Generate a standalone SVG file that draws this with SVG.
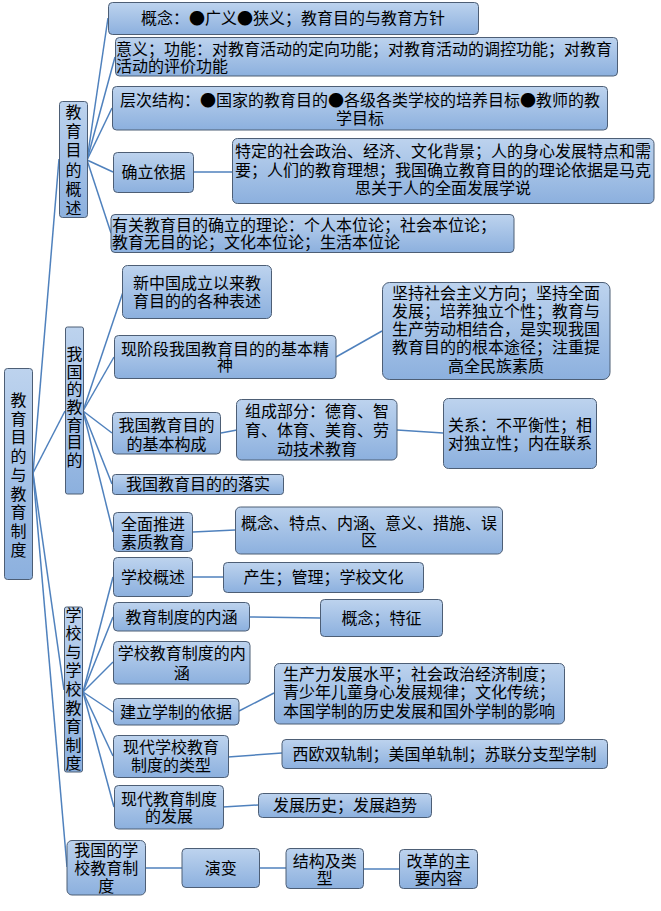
<svg xmlns="http://www.w3.org/2000/svg" width="661" height="911" viewBox="0 0 661 911">
<defs>
<linearGradient id="g" x1="0" y1="0" x2="0" y2="1">
<stop offset="0" stop-color="#bdd3ee"/>
<stop offset="1" stop-color="#8cb0de"/>
</linearGradient>
<style>
rect{fill:url(#g);stroke:#4d5e75;stroke-width:1}
text{font-family:"Noto Sans CJK SC","Liberation Sans",sans-serif;font-size:16px;fill:#000}
.c{text-anchor:middle}
#connectors line{stroke:#4f81bd;stroke-width:1.5;fill:none}
</style>
</defs>
<rect x="0" y="0" width="661" height="911" style="fill:#fff;stroke:none"/>
<g id="connectors">
<line x1="33" y1="473" x2="59" y2="159"/>
<line x1="33" y1="473" x2="65" y2="411"/>
<line x1="33" y1="473" x2="64" y2="690"/>
<line x1="33" y1="473" x2="67" y2="867"/>
<line x1="87" y1="160" x2="108" y2="18"/>
<line x1="87" y1="160" x2="115" y2="57"/>
<line x1="87" y1="160" x2="112" y2="108"/>
<line x1="87" y1="160" x2="113" y2="172"/>
<line x1="87" y1="160" x2="111" y2="233"/>
<line x1="193" y1="172" x2="232" y2="172"/>
<line x1="83" y1="411" x2="123" y2="292"/>
<line x1="83" y1="411" x2="114" y2="357"/>
<line x1="83" y1="411" x2="112" y2="433"/>
<line x1="83" y1="411" x2="112" y2="484"/>
<line x1="83" y1="411" x2="113" y2="532"/>
<line x1="336" y1="357" x2="382" y2="331"/>
<line x1="221" y1="433" x2="237" y2="430"/>
<line x1="397" y1="430" x2="443" y2="433"/>
<line x1="193" y1="532" x2="235" y2="530"/>
<line x1="83" y1="692" x2="113" y2="577"/>
<line x1="83" y1="692" x2="113" y2="617"/>
<line x1="83" y1="692" x2="113" y2="662"/>
<line x1="83" y1="692" x2="113" y2="712"/>
<line x1="83" y1="692" x2="113" y2="756"/>
<line x1="83" y1="692" x2="114" y2="807"/>
<line x1="193" y1="577" x2="223" y2="577"/>
<line x1="249" y1="617" x2="320" y2="618"/>
<line x1="239" y1="711" x2="274" y2="693"/>
<line x1="228" y1="757" x2="282" y2="753"/>
<line x1="223" y1="807" x2="258" y2="805"/>
<line x1="146" y1="868" x2="182" y2="868"/>
<line x1="259" y1="868" x2="286" y2="868"/>
<line x1="363" y1="869" x2="399" y2="869"/>
</g>
<g id="root">
<rect x="4.5" y="368.5" width="28" height="211" rx="3"/>
<text class="c"><tspan x="18.5" y="406">教</tspan><tspan x="18.5" dy="18.7">育</tspan><tspan x="18.5" dy="18.7">目</tspan><tspan x="18.5" dy="18.7">的</tspan><tspan x="18.5" dy="18.7">与</tspan><tspan x="18.5" dy="18.7">教</tspan><tspan x="18.5" dy="18.7">育</tspan><tspan x="18.5" dy="18.7">制</tspan><tspan x="18.5" dy="18.7">度</tspan></text>
</g>
<g id="n1">
<rect x="59.5" y="101.5" width="28" height="116" rx="3"/>
<text class="c"><tspan x="73.5" y="118">教</tspan><tspan x="73.5" dy="19.2">育</tspan><tspan x="73.5" dy="19.2">目</tspan><tspan x="73.5" dy="19.2">的</tspan><tspan x="73.5" dy="19.2">概</tspan><tspan x="73.5" dy="19.2">述</tspan></text>
</g>
<g id="n1a">
<rect x="108.5" y="2.5" width="370" height="32" rx="4"/>
<text class="c" x="293" y="24">概念：●广义●狭义；教育目的与教育方针</text>
</g>
<g id="n1b">
<rect x="115.5" y="37.5" width="502" height="38.5" rx="4"/>
<text><tspan x="116" y="54.5">意义；功能：对教育活动的定向功能；对教育活动的调控功能；对教育</tspan><tspan x="116" y="71.5">活动的评价功能</tspan></text>
</g>
<g id="n1c">
<rect x="112.5" y="86.5" width="495" height="43.5" rx="4"/>
<text class="c"><tspan x="360" y="106">层次结构：●国家的教育目的●各级各类学校的培养目标●教师的教</tspan><tspan x="360" y="123.5">学目标</tspan></text>
</g>
<g id="n1d">
<rect x="113.5" y="152.5" width="80" height="40" rx="4"/>
<text class="c" x="153.5" y="178">确立依据</text>
</g>
<g id="n1d1">
<rect x="232.5" y="138.5" width="421.5" height="65" rx="5"/>
<text class="c"><tspan x="443" y="157">特定的社会政治、经济、文化背景；人的身心发展特点和需</tspan><tspan x="443" y="175.5">要；人们的教育理想；我国确立教育目的的理论依据是马克</tspan><tspan x="443" y="194">思关于人的全面发展学说</tspan></text>
</g>
<g id="n1e">
<rect x="111" y="214.5" width="403" height="38" rx="4"/>
<text><tspan x="112" y="230.5">有关教育目的确立的理论：个人本位论；社会本位论；</tspan><tspan x="112" y="247.5">教育无目的论；文化本位论；生活本位论</tspan></text>
</g>
<g id="n2">
<rect x="65.5" y="327" width="18" height="167" rx="2"/>
<text class="c"><tspan x="74.5" y="360">我</tspan><tspan x="74.5" dy="17.67">国</tspan><tspan x="74.5" dy="17.67">的</tspan><tspan x="74.5" dy="17.67">教</tspan><tspan x="74.5" dy="17.67">育</tspan><tspan x="74.5" dy="17.67">目</tspan><tspan x="74.5" dy="17.67">的</tspan></text>
</g>
<g id="n2a">
<rect x="122.5" y="265.5" width="149" height="53" rx="5"/>
<text class="c"><tspan x="197" y="288.5">新中国成立以来教</tspan><tspan x="197" y="306.5">育目的的各种表述</tspan></text>
</g>
<g id="n2b">
<rect x="114.5" y="335.5" width="221.5" height="43" rx="4"/>
<text class="c"><tspan x="225" y="354.5">现阶段我国教育目的的基本精</tspan><tspan x="225" y="371">神</tspan></text>
</g>
<g id="n2b1">
<rect x="382.5" y="282.5" width="227.5" height="97" rx="7"/>
<text class="c"><tspan x="496" y="298.5">坚持社会主义方向；坚持全面</tspan><tspan x="496" y="316.8">发展；培养独立个性；教育与</tspan><tspan x="496" y="335.1">生产劳动相结合，是实现我国</tspan><tspan x="496" y="353.4">教育目的的根本途径；注重提</tspan><tspan x="496" y="371.7">高全民族素质</tspan></text>
</g>
<g id="n2c">
<rect x="112.5" y="412.5" width="108" height="41.5" rx="4"/>
<text class="c"><tspan x="166.5" y="430.5">我国教育目的</tspan><tspan x="166.5" y="450">的基本构成</tspan></text>
</g>
<g id="n2c1">
<rect x="236.5" y="399.5" width="160.5" height="60.5" rx="5"/>
<text class="c"><tspan x="317" y="416.5">组成部分：德育、智</tspan><tspan x="317" y="436">育、体育、美育、劳</tspan><tspan x="317" y="454.5">动技术教育</tspan></text>
</g>
<g id="n2c2">
<rect x="443.5" y="398.5" width="153" height="70" rx="5"/>
<text class="c"><tspan x="520" y="430.5">关系：不平衡性；相</tspan><tspan x="520" y="448.5">对独立性；内在联系</tspan></text>
</g>
<g id="n2d">
<rect x="112.5" y="474.5" width="171" height="20" rx="3"/>
<text class="c" x="198" y="490">我国教育目的的落实</text>
</g>
<g id="n2e">
<rect x="113.5" y="512.5" width="79" height="39" rx="4"/>
<text class="c"><tspan x="153" y="529.5">全面推进</tspan><tspan x="153" y="547.5">素质教育</tspan></text>
</g>
<g id="n2e1">
<rect x="235.5" y="507" width="267" height="47" rx="5"/>
<text class="c"><tspan x="369" y="528.5">概念、特点、内涵、意义、措施、误</tspan><tspan x="369" y="545.5">区</tspan></text>
</g>
<g id="n3">
<rect x="64.5" y="607" width="18" height="165" rx="2"/>
<text class="c"><tspan x="73.5" y="620.5">学</tspan><tspan x="73.5" dy="18.6">校</tspan><tspan x="73.5" dy="18.6">与</tspan><tspan x="73.5" dy="18.6">学</tspan><tspan x="73.5" dy="18.6">校</tspan><tspan x="73.5" dy="18.6">教</tspan><tspan x="73.5" dy="18.6">育</tspan><tspan x="73.5" dy="18.6">制</tspan><tspan x="73.5" dy="18.6">度</tspan></text>
</g>
<g id="n3a">
<rect x="113.5" y="557.5" width="79" height="39" rx="4"/>
<text class="c" x="153" y="583">学校概述</text>
</g>
<g id="n3a1">
<rect x="223.5" y="562.5" width="200" height="30" rx="4"/>
<text class="c" x="323.5" y="583">产生；管理；学校文化</text>
</g>
<g id="n3b">
<rect x="113.5" y="602.5" width="136" height="28.5" rx="4"/>
<text class="c" x="181.5" y="622.5">教育制度的内涵</text>
</g>
<g id="n3b1">
<rect x="320.5" y="599.5" width="122" height="37" rx="4"/>
<text class="c" x="381.5" y="624">概念；特征</text>
</g>
<g id="n3c">
<rect x="113.5" y="641.5" width="136.5" height="42.5" rx="4"/>
<text class="c"><tspan x="181.7" y="658.5">学校教育制度的内</tspan><tspan x="181.7" y="678.5">涵</tspan></text>
</g>
<g id="n3d">
<rect x="113.5" y="698.5" width="125.5" height="26.5" rx="4"/>
<text class="c" x="176" y="717.5">建立学制的依据</text>
</g>
<g id="n3d1">
<rect x="274.5" y="663.5" width="290" height="60.5" rx="5"/>
<text><tspan x="283" y="679.5">生产力发展水平；社会政治经济制度；</tspan><tspan x="283" y="698">青少年儿童身心发展规律；文化传统；</tspan><tspan x="283" y="716.5">本国学制的历史发展和国外学制的影响</tspan></text>
</g>
<g id="n3e">
<rect x="113.5" y="735.5" width="115" height="42" rx="4"/>
<text class="c"><tspan x="171" y="752.5">现代学校教育</tspan><tspan x="171" y="771">制度的类型</tspan></text>
</g>
<g id="n3e1">
<rect x="282" y="739.5" width="325.5" height="29" rx="4"/>
<text class="c" x="444.5" y="759.5">西欧双轨制；美国单轨制；苏联分支型学制</text>
</g>
<g id="n3f">
<rect x="114.5" y="785.5" width="109" height="43.5" rx="4"/>
<text class="c"><tspan x="169" y="804.5">现代教育制度</tspan><tspan x="169" y="821.5">的发展</tspan></text>
</g>
<g id="n3f1">
<rect x="258.5" y="793.5" width="173" height="24" rx="4"/>
<text class="c" x="345" y="811">发展历史；发展趋势</text>
</g>
<g id="n4">
<rect x="67" y="840.5" width="78.5" height="54.5" rx="5"/>
<text class="c"><tspan x="106.2" y="855.5">我国的学</tspan><tspan x="106.2" y="873.5">校教育制</tspan><tspan x="106.2" y="891.5">度</tspan></text>
</g>
<g id="n4a">
<rect x="182" y="848.5" width="77.5" height="39" rx="4"/>
<text class="c" x="220.7" y="873.5">演变</text>
</g>
<g id="n4b">
<rect x="286" y="848.5" width="77.5" height="40" rx="4"/>
<text class="c"><tspan x="324.7" y="866.5">结构及类</tspan><tspan x="324.7" y="883.5">型</tspan></text>
</g>
<g id="n4c">
<rect x="399.5" y="849.5" width="78" height="39" rx="4"/>
<text class="c"><tspan x="438.5" y="866.5">改革的主</tspan><tspan x="438.5" y="883.5">要内容</tspan></text>
</g>
</svg>
